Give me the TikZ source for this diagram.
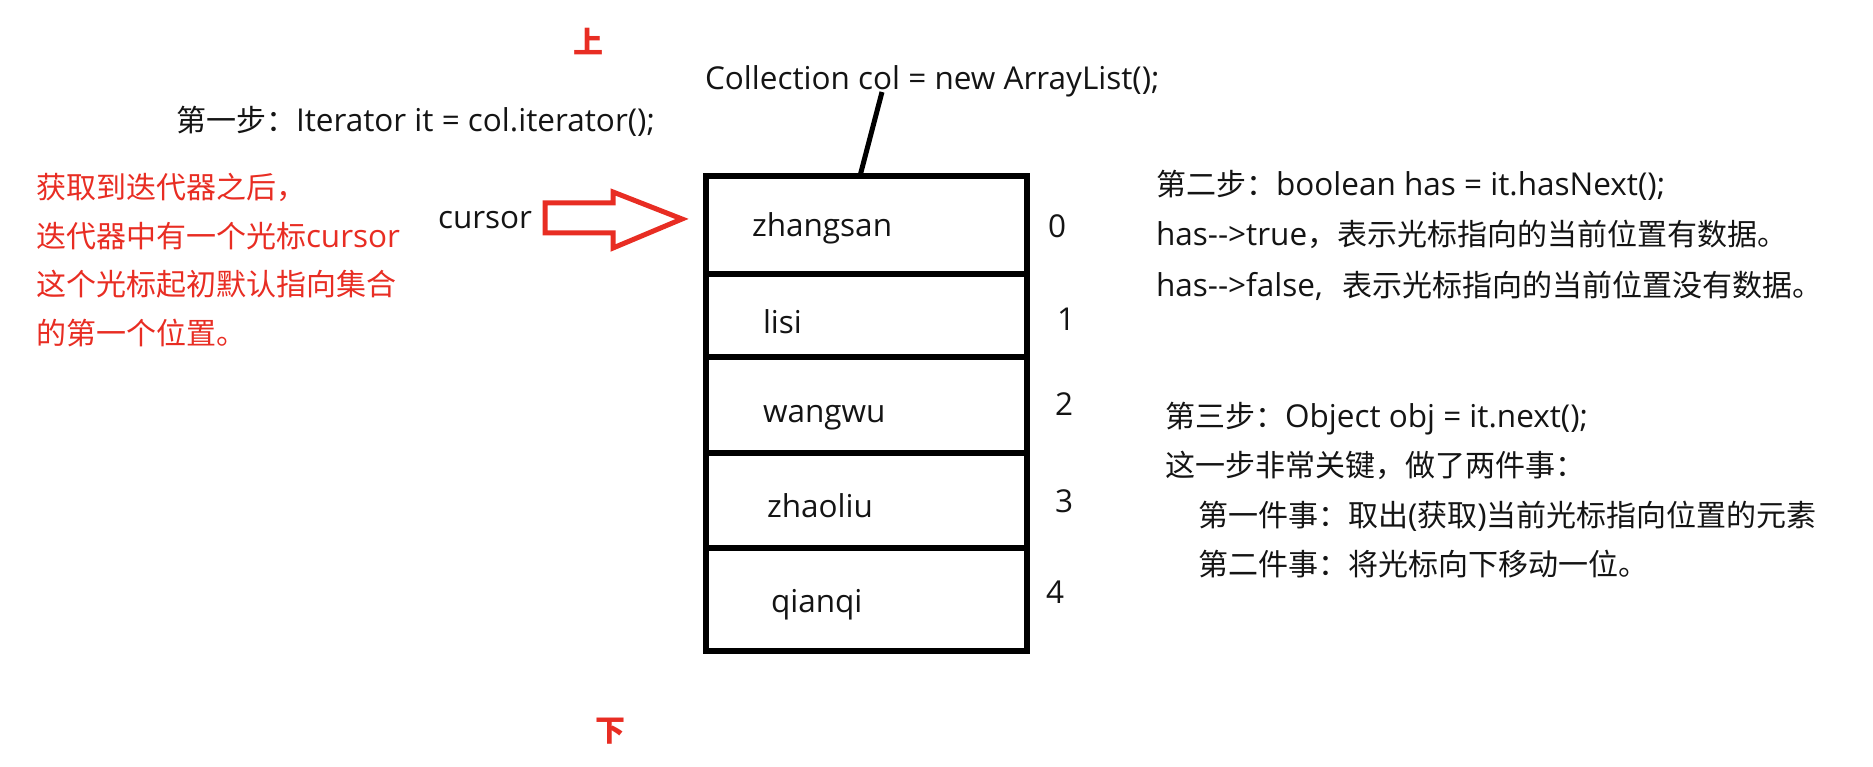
\documentclass[tikz,border=0pt]{standalone}
\usepackage{fontspec}
\setmainfont{Noto Sans CJK SC}
\newfontfamily\latf{Open Sans}[Scale=1.05]
\definecolor{myred}{RGB}{232,45,35}
\definecolor{ink}{RGB}{20,20,20}
\begin{document}
\begin{tikzpicture}[x=1pt,y=-1pt,
  txt/.style={anchor=base west,inner sep=0pt,outer sep=0pt,text=ink,font=\fontsize{30}{36}\selectfont},
  lattxt/.style={txt,font=\fontsize{30}{36}\selectfont\latf},
  redtxt/.style={txt,text=myred},
  dirlabel/.style={anchor=center,inner sep=0pt,text=myred,font=\fontsize{30}{36}\selectfont\bfseries},
  cell/.style={draw=black,line width=5.5pt,minimum width=321pt,anchor=north west,inner sep=0pt,outer sep=0pt},
  link/.style={draw=black,line width=5pt},
  hollow/.style={draw=myred,line width=5pt,line join=miter}
]
\useasboundingbox (0,0) rectangle (1873,767);

% up / down labels
\node[dirlabel] (up) at (588,42) {上};
\node[dirlabel] (down) at (610,731) {下};

% collection declaration
\node[lattxt] (coll) at (705,90) {Collection col = new ArrayList();};
\node[txt] (step1) at (176,132) {第一步：{\latf Iterator it = col.iterator();}};

% red explanation
\node[redtxt] (r1) at (36,199) {获取到迭代器之后，};
\node[redtxt] (r2) at (36,248) {迭代器中有一个光标{\latf cursor}};
\node[redtxt] (r3) at (36,295) {这个光标起初默认指向集合};
\node[redtxt] (r4) at (36,344) {的第一个位置。};

% cursor label and hollow arrow
\node[lattxt] (cur) at (438,229) {cursor};
\draw[hollow] (545,203) -- (613,203) -- (613,192) -- (682,219) -- (613,248) -- (613,233) -- (545,233) -- cycle;

% cells
\node[cell,minimum height=98pt] (c0) at (706,176) {};
\node[cell,minimum height=83pt] (c1) at (706,274) {};
\node[cell,minimum height=96pt] (c2) at (706,357) {};
\node[cell,minimum height=95pt] (c3) at (706,453) {};
\node[cell,minimum height=103pt] (c4) at (706,548) {};

\node[lattxt] (t0) at (752,237) {zhangsan};
\node[lattxt] (t1) at (763,333) {lisi};
\node[lattxt] (t2) at (763,422) {wangwu};
\node[lattxt] (t3) at (767,517) {zhaoliu};
\node[lattxt] (t4) at (771,612) {qianqi};

\node[lattxt] (n0) at (1048,238) {0};
\node[lattxt] (n1) at (1057,330) {1};
\node[lattxt] (n2) at (1055,415) {2};
\node[lattxt] (n3) at (1055,512) {3};
\node[lattxt] (n4) at (1046,603) {4};

% connector from declaration to collection
\coordinate (colpt) at (882,92);
\coordinate (foot) at (860,176);
\draw[link] (c0.north -| foot) -- (colpt);

% step 2
\node[txt] (s2a) at (1156,196) {第二步：{\latf boolean has = it.hasNext();}};
\node[txt] (s2b) at (1156,246) {{\latf has-{}-{}>true}，表示光标指向的当前位置有数据。};
\node[txt] (s2c) at (1156,296) {{\latf has-{}-{}>false,}\hspace{20pt}表示光标指向的当前位置没有数据。};

% step 3
\node[txt] (s3a) at (1165,427) {第三步：{\latf Object obj = it.next();}};
\node[txt] (s3b) at (1165,476) {这一步非常关键，做了两件事：};
\node[txt] (s3c) at (1198,526) {第一件事：取出{\latf (}获取{\latf )}当前光标指向位置的元素};
\node[txt] (s3d) at (1198,575) {第二件事：将光标向下移动一位。};
\end{tikzpicture}
\end{document}
